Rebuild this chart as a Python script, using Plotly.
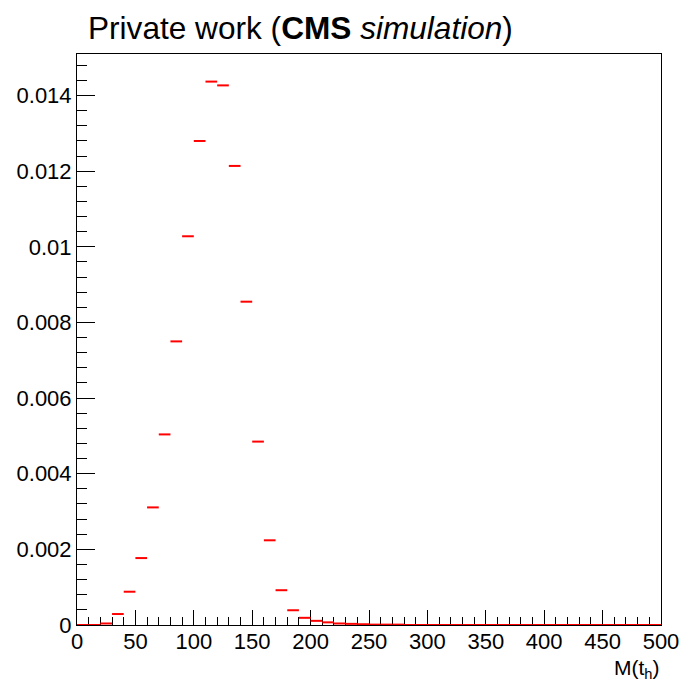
import plotly.graph_objects as go

# Histogram of the hadronic top mass, normalised to unit area (bin width 10 GeV)
bin_edges = list(range(0, 510, 10))
density = [
    0.0, 0.0, 0.00004, 0.00029, 0.00088, 0.00177, 0.00311, 0.00504, 0.00750, 0.01028,
    0.01280, 0.01437, 0.01427, 0.01214, 0.00855, 0.00485, 0.00224, 0.00092, 0.00039, 0.00019,
    0.00011, 0.00007, 0.00004, 0.00003, 0.00002, 0.00001, 0.00001, 0.00001, 0.0, 0.0,
    0.0, 0.0, 0.0, 0.0, 0.0, 0.0, 0.0, 0.0, 0.0, 0.0,
    0.0, 0.0, 0.0, 0.0, 0.0, 0.0, 0.0, 0.0, 0.0, 0.0,
]
y_tick_vals = [0, 0.002, 0.004, 0.006, 0.008, 0.01, 0.012, 0.014]
y_tick_text = ["0", "0.002", "0.004", "0.006", "0.008", "0.01", "0.012", "0.014"]
x_tick_vals = [0, 50, 100, 150, 200, 250, 300, 350, 400, 450, 500]

# Each bin is drawn as a horizontal segment spanning the bin width
seg_x, seg_y = [], []
for lo, hi, v in zip(bin_edges[:-1], bin_edges[1:], density):
    seg_x += [lo, hi, None]
    seg_y += [v, v, None]

FONT = "Liberation Sans, Helvetica, Arial, sans-serif"

fig = go.Figure()
fig.add_trace(go.Scatter(
    x=seg_x, y=seg_y, mode="lines",
    line=dict(color="#ff0000", width=2),
    hoverinfo="skip", showlegend=False,
))

axis_common = dict(
    showgrid=False, zeroline=False, automargin=False,
    showline=True, linecolor="black", linewidth=1, mirror=True,
    ticks="inside", tickcolor="black", tickwidth=1,
    tickfont=dict(family=FONT, size=22, color="black"),
    layer="below traces",
)

fig.update_xaxes(
    range=[0, 500], tickvals=x_tick_vals, ticklen=15, ticklabelstandoff=-3,
    minor=dict(ticks="inside", dtick=10, ticklen=8, tickcolor="black", tickwidth=1),
    **axis_common,
)
fig.update_yaxes(
    range=[0, 0.0151], tickvals=y_tick_vals, ticktext=y_tick_text, ticklen=18,
    minor=dict(ticks="inside", dtick=0.0004, ticklen=10, tickcolor="black", tickwidth=1),
    **axis_common,
)

fig.add_annotation(
    text="Private work (<b>CMS</b> <i>simulation</i>)",
    xref="paper", yref="paper", x=0.016, y=1.046,
    xanchor="left", yanchor="middle", showarrow=False,
    font=dict(family=FONT, size=31.6, color="black"),
)
fig.add_annotation(
    text="M(t<sub>h</sub>)",
    xref="paper", yref="paper", x=1.0, y=-0.052,
    xanchor="right", yanchor="top", showarrow=False, borderpad=0,
    font=dict(family=FONT, size=21, color="black"),
)

fig.update_layout(
    width=681, height=681,
    margin=dict(l=77, r=20, t=54, b=56),
    paper_bgcolor="white", plot_bgcolor="white",
)

fig.write_html("out.html")
